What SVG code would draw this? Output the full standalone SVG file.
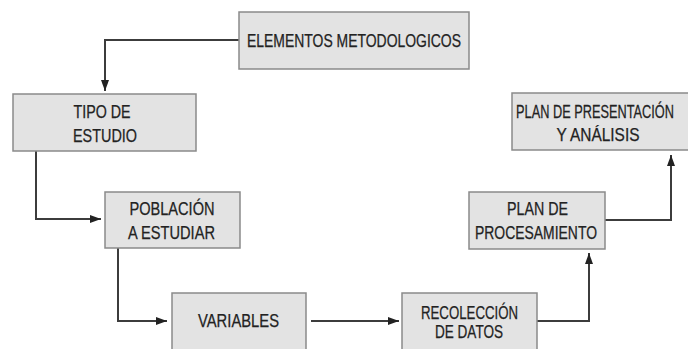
<svg xmlns="http://www.w3.org/2000/svg" width="688" height="349" viewBox="0 0 688 349">
  <style>
    .box { fill: #e3e3e3; stroke: #8a8a8a; stroke-width: 1.5; }
    .lbl { font-family: "Liberation Sans", Arial, sans-serif; font-size: 18px; fill: #222; stroke: #222; stroke-width: 0.25; text-anchor: middle; }
    .conn { fill: none; stroke: #3c3c3c; stroke-width: 2; }
  </style>
  <defs>
    <marker id="arr" markerUnits="userSpaceOnUse" markerWidth="12" markerHeight="10" refX="11" refY="4" orient="auto">
      <path d="M0,0 L11,4 L0,8 Z" fill="#222"/>
    </marker>
  </defs>
  <rect width="688" height="349" fill="#ffffff"/>

  <g id="connectors">
    <path class="conn" d="M239,40 H105 V91" marker-end="url(#arr)"/>
    <path class="conn" d="M36,151 V219 H101" marker-end="url(#arr)"/>
    <path class="conn" d="M118,248 V321 H167" marker-end="url(#arr)"/>
    <path class="conn" d="M311,321 H399" marker-end="url(#arr)"/>
    <path class="conn" d="M537,321 H589 V253" marker-end="url(#arr)"/>
    <path class="conn" d="M605,220 H671 V155" marker-end="url(#arr)"/>
  </g>

  <g id="elementos">
    <rect class="box" x="239" y="12" width="230" height="57"/>
    <text class="lbl" x="354" y="47" textLength="214" lengthAdjust="spacingAndGlyphs">ELEMENTOS METODOLOGICOS</text>
  </g>
  <g id="tipo">
    <rect class="box" x="13" y="94" width="183" height="57"/>
    <text class="lbl" x="102" y="118" textLength="57" lengthAdjust="spacingAndGlyphs">TIPO DE</text>
    <text class="lbl" x="105" y="142" textLength="64" lengthAdjust="spacingAndGlyphs">ESTUDIO</text>
  </g>
  <g id="poblacion">
    <rect class="box" x="105" y="192" width="135" height="56"/>
    <text class="lbl" x="172" y="215" textLength="85" lengthAdjust="spacingAndGlyphs">POBLACIÓN</text>
    <text class="lbl" x="171.5" y="239" textLength="87" lengthAdjust="spacingAndGlyphs">A ESTUDIAR</text>
  </g>
  <g id="variables">
    <rect class="box" x="172" y="293" width="134" height="70"/>
    <text class="lbl" x="238.5" y="327" textLength="81" lengthAdjust="spacingAndGlyphs">VARIABLES</text>
  </g>
  <g id="recoleccion">
    <rect class="box" x="402" y="293" width="135" height="70"/>
    <text class="lbl" x="469.5" y="319" textLength="97" lengthAdjust="spacingAndGlyphs">RECOLECCIÓN</text>
    <text class="lbl" x="469" y="338" textLength="68" lengthAdjust="spacingAndGlyphs">DE DATOS</text>
  </g>
  <g id="procesamiento">
    <rect class="box" x="469" y="192" width="136" height="57"/>
    <text class="lbl" x="537.5" y="215" textLength="61" lengthAdjust="spacingAndGlyphs">PLAN DE</text>
    <text class="lbl" x="536" y="239" textLength="122" lengthAdjust="spacingAndGlyphs">PROCESAMIENTO</text>
  </g>
  <g id="presentacion">
    <rect class="box" x="512" y="93" width="185" height="57"/>
    <text class="lbl" transform="translate(595,118) scale(0.71,1)" x="0" y="0">PLAN DE PRESENTACIÓN</text>
    <text class="lbl" x="598" y="141" textLength="83" lengthAdjust="spacingAndGlyphs">Y ANÁLISIS</text>
  </g>
</svg>
